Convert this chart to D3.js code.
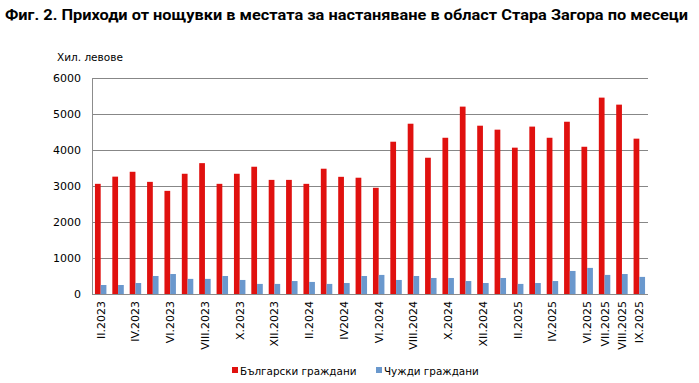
<!DOCTYPE html>
<html>
<head>
<meta charset="utf-8">
<script src="https://cdn.jsdelivr.net/npm/d3@7"></script>
<style>
	body { margin: 0; background: #fff; }
	text { font-family: "DejaVu Sans", Verdana, sans-serif; fill: #000; }
</style>
</head>
<body>
<svg id="chart"></svg>
<script>
// months from II.2023 to IX.2025
const months = [
	"II.2023", "III.2023", "IV.2023", "V.2023", "VI.2023", "VII.2023", "VIII.2023", "IX.2023",
	"X.2023", "XI.2023", "XII.2023", "I.2024", "II.2024", "III.2024", "IV2024", "V.2024",
	"VI.2024", "VII.2024", "VIII.2024", "IX.2024", "X.2024", "XI.2024", "XII.2024", "I.2025",
	"II.2025", "III.2025", "IV.2025", "V.2025", "VI.2025", "VII.2025", "VIII.2025", "IX.2025"
];
// only these labels are printed under the axis
const shownLabels = [
	"II.2023", "IV.2023", "VI.2023", "VIII.2023", "X.2023", "XII.2023", "II.2024", "IV2024",
	"VI.2024", "VIII.2024", "X.2024", "XII.2024", "II.2025", "IV.2025", "VI.2025", "VII.2025",
	"VIII.2025", "IX.2025"
];
const bulgarians = [
	3060, 3260, 3395, 3115, 2865, 3340, 3635, 3060, 3340, 3535, 3170, 3170, 3060, 3480, 3255, 3230,
	2950, 4230, 4730, 3785, 4340, 5205, 4675, 4565, 4065, 4650, 4340, 4785, 4090, 5455, 5260, 4315
];
const foreigners = [
	250, 250, 305, 500, 555, 420, 420, 500, 390, 280, 280, 360, 335, 280, 305, 500,
	530, 390, 500, 445, 445, 360, 305, 445, 280, 305, 360, 640, 725, 530, 555, 475
];
const yTicks = [0, 1000, 2000, 3000, 4000, 5000, 6000];
const seriesNames = ["Български граждани", "Чужди граждани"];
const seriesColors = ["#e0110f", "#6a98cd"];

const width = 699, height = 383;
const plot = { left: 92, right: 648, top: 78, bottom: 294 };

const svg = d3.select("#chart").attr("width", width).attr("height", height);

svg.append("text")
	.attr("x", 5)
	.attr("y", 20)
	.attr("textLength", 683)
	.attr("lengthAdjust", "spacingAndGlyphs")
	.style("font-family", "Roboto, 'Liberation Sans', sans-serif")
	.style("font-weight", "bold")
	.style("font-size", "14px")
	.text("Фиг. 2. Приходи от нощувки в местата за настаняване в област Стара Загора по месеци");

const x = d3.scaleBand().domain(months).range([plot.left, plot.right]);
const y = d3.scaleLinear().domain([0, 6000]).range([plot.bottom, plot.top]);

//gridlines
svg.append("g")
	.selectAll("line")
	.data(yTicks)
	.enter()
	.append("line")
	.attr("x1", plot.left)
	.attr("x2", plot.right)
	.attr("y1", (d) => Math.round(y(d)) + 0.5)
	.attr("y2", (d) => Math.round(y(d)) + 0.5)
	.attr("stroke", (d) => (d == 0 ? "#8c8c8c" : "#878787"))
	.attr("stroke-width", 1);

//left axis line
svg.append("line")
	.attr("x1", plot.left + 0.5)
	.attr("x2", plot.left + 0.5)
	.attr("y1", plot.top)
	.attr("y2", plot.bottom + 0.5)
	.attr("stroke", "#8c8c8c");

//y tick labels
svg.append("g")
	.selectAll("text")
	.data(yTicks)
	.enter()
	.append("text")
	.attr("x", 81)
	.attr("y", (d) => y(d) + 4)
	.attr("text-anchor", "end")
	.style("font-size", "11px")
	.text((d) => d);

svg.append("text")
	.attr("x", 57)
	.attr("y", 61)
	.style("font-size", "10.5px")
	.text("Хил. левове");

//bars, two per month
const barW = x.bandwidth() * 0.33;
const rows = months.map((m, i) => ({ month: m, values: [bulgarians[i], foreigners[i]] }));

const groups = svg.append("g")
	.selectAll("g")
	.data(rows)
	.enter()
	.append("g")
	.attr("transform", (d) => `translate(${x(d.month) + x.bandwidth() / 2 - barW}, 0)`);

groups.selectAll("rect")
	.data((d) => d.values)
	.enter()
	.append("rect")
	.attr("x", (d, i) => i * barW)
	.attr("width", barW)
	.attr("y", (d) => y(d))
	.attr("height", (d) => y(0) - y(d))
	.attr("fill", (d, i) => seriesColors[i]);

//x labels, rotated
svg.append("g")
	.selectAll("text")
	.data(shownLabels)
	.enter()
	.append("text")
	.attr("transform", (d) => `translate(${x(d) + x.bandwidth() / 2 + 4}, 301) rotate(-90)`)
	.attr("text-anchor", "end")
	.style("font-size", "11px")
	.text((d) => d);

//legend
const legend = svg.append("g").attr("transform", "translate(232, 372)");
const legendX = [0, 144];
seriesNames.forEach((name, i) => {
	legend.append("rect")
		.attr("x", legendX[i])
		.attr("y", -5)
		.attr("width", 6)
		.attr("height", 6)
		.attr("fill", seriesColors[i]);
	legend.append("text")
		.attr("x", legendX[i] + 8)
		.attr("y", 2)
		.attr("dy", "0.1em")
		.style("font-size", "10.4px")
		.text(name);
});
</script>
</body>
</html>
